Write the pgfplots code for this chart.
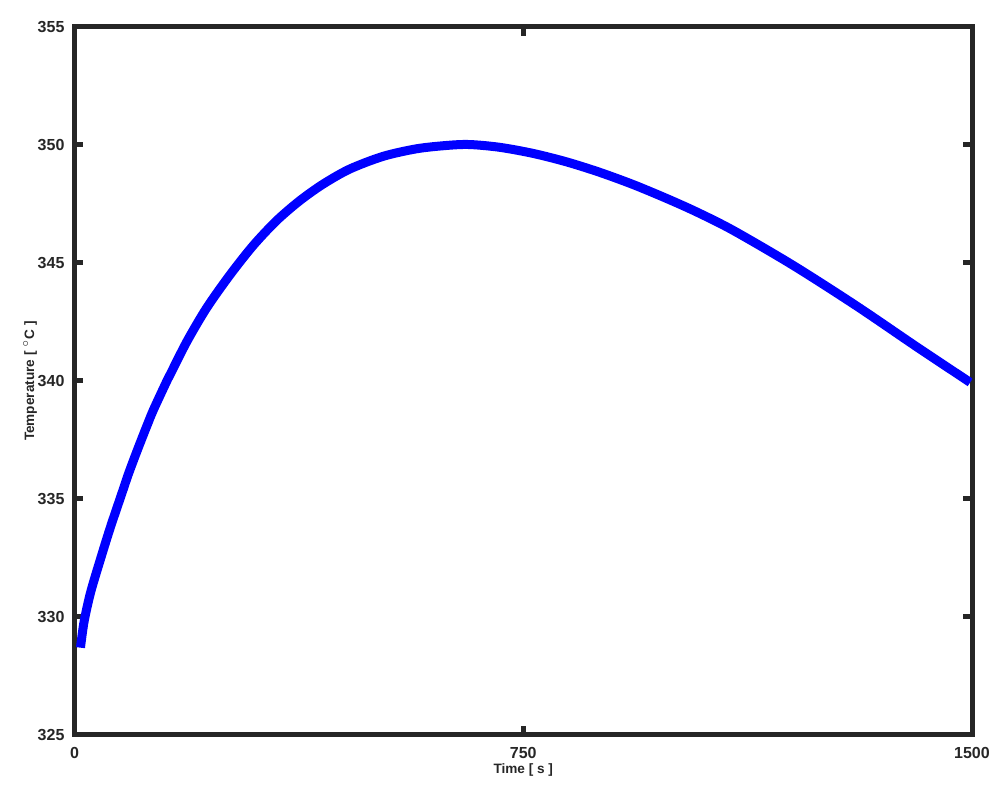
\documentclass[border=0pt]{standalone}
\usepackage{pgfplots}
\pgfplotsset{compat=1.18}
\usepackage{fontspec}
\setmainfont{Liberation Sans}
\definecolor{frame}{RGB}{38,38,38}

\begin{document}
\begin{tikzpicture}
\begin{axis}[name=ax, scale only axis,
  width=448.75pt, height=354pt,
  xmin=0, xmax=1500, ymin=325, ymax=355,
  xtick={0,750,1500}, ytick={325,330,...,355},
  tick align=inside, major tick length=4.5pt,
  axis line style={line width=2.5pt, frame},
  tick style={line width=2.5pt, frame},
  /pgf/number format/assume math mode=true,
  /pgf/number format/1000 sep={},
  ticklabel style={font=\bfseries\fontsize{8}{9}\selectfont, text=black!85},
  yticklabel style={xshift=-1.5pt},
  xticklabel style={yshift=-2.5pt},
  label style={font=\bfseries\fontsize{6.8}{8}\selectfont, text=black!85},
  xlabel={Time [ s ]},
  ylabel={Temperature [ \textsuperscript{$\circ$}C ]},
  xlabel style={at={(axis description cs:0.5,0)}, anchor=center, yshift=-17.5pt},
  ylabel style={at={(axis description cs:-0.0496,0.5)}, anchor=center},
]
\addplot[color={rgb,255:red,0;green,0;blue,255}, line width=4.5pt, smooth] coordinates {
  (10,328.7) (16,329.8) (27,331.05) (44,332.5) (60,333.8) (80,335.3)
  (90,336.05) (104,337.0) (121,338.1) (132,338.78) (154,339.98) (160,340.28)
  (188,341.68) (221,343.1) (260,344.5) (299,345.75) (338,346.8)
  (377,347.65) (416,348.35) (460,348.98) (516,349.52) (572,349.84)
  (622,349.98) (660,350.02) (711,349.90) (767,349.64) (823,349.28)
  (878,348.84) (934,348.32) (990,347.73) (1040,347.16) (1101,346.38)
  (1201,344.90) (1307,343.18) (1408,341.44) (1497,339.94)
};
\end{axis}
\path[use as bounding box] ([shift={(-37.25pt,-27pt)}]ax.south west)
  rectangle ([shift={(18pt,13.5pt)}]ax.north east);
\end{tikzpicture}
\end{document}
